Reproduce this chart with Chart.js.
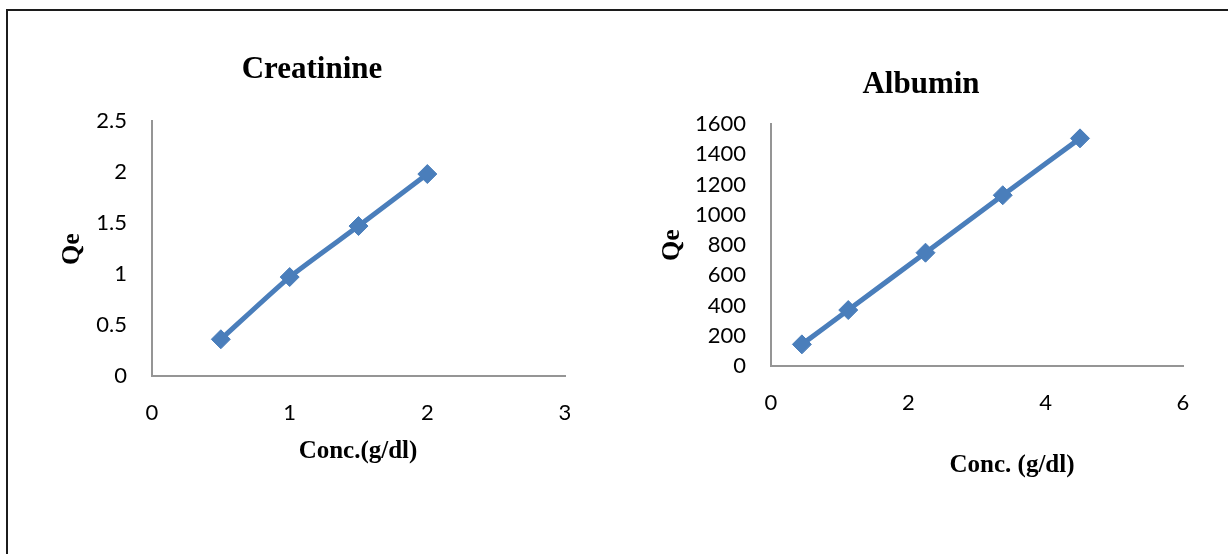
<!DOCTYPE html>
<html>
<head>
<meta charset="utf-8">
<title>Creatinine and Albumin adsorption</title>
<script src="https://cdn.jsdelivr.net/npm/chart.js@4/dist/chart.umd.min.js"></script>
<style>
  html, body { margin: 0; padding: 0; background: #fff; overflow: hidden; }
  body { width: 1228px; height: 554px; position: relative; }
  .frame {
    position: absolute; left: 6px; top: 9px; width: 1300px; height: 700px;
    border-top: 2px solid #1c1c1c; border-left: 2px solid #1c1c1c; box-sizing: border-box;
  }
  .panel { position: absolute; top: 0; width: 614px; height: 554px; }
  #left { left: 0; }
  #right { left: 614px; }
</style>
</head>
<body>
<div class="frame"></div>
<div class="panel" id="left"><canvas id="creatinine" width="614" height="554"></canvas></div>
<div class="panel" id="right"><canvas id="albumin" width="614" height="554"></canvas></div>
<script>
// Creatinine series
const creatinineConc = [0.5, 1, 1.5, 2];
const creatinineQe = [0.36, 0.97, 1.47, 1.98];
const creatinineXTicks = [0, 1, 2, 3];
const creatinineYTicks = [0, 0.5, 1, 1.5, 2, 2.5];

// Albumin series
const albuminConc = [0.45, 1.125, 2.25, 3.375, 4.5];
const albuminQe = [143, 370, 749, 1129, 1505];
const albuminXTicks = [0, 2, 4, 6];
const albuminYTicks = [0, 200, 400, 600, 800, 1000, 1200, 1400, 1600];

const SERIES_COLOR = '#4A7EBB';
const AXIS_COLOR = '#959595';
const TICK_FONT = { family: 'Lato, "Open Sans", sans-serif', size: 22 };

// Draws the chart title and axis titles in bold serif.
const captions = {
  id: 'captions',
  afterDraw(chart, args, opts) {
    const ctx = chart.ctx;
    (opts.items || []).forEach(it => {
      ctx.save();
      ctx.font = 'bold ' + it.size + 'px "Liberation Serif", "Times New Roman", serif';
      ctx.fillStyle = '#000';
      ctx.textAlign = 'center';
      ctx.textBaseline = 'middle';
      ctx.translate(it.x, it.y);
      if (it.rotate) ctx.rotate(it.rotate);
      ctx.fillText(it.text, 0, 0);
      ctx.restore();
    });
  }
};

function points(xs, ys) {
  return xs.map((x, i) => ({ x: x, y: ys[i] }));
}

const plainNumber = v => String(v);

function makeChart(id, cfg) {
  return new Chart(document.getElementById(id), {
    type: 'scatter',
    data: {
      datasets: [{
        data: points(cfg.xs, cfg.ys),
        showLine: true,
        borderColor: SERIES_COLOR,
        backgroundColor: SERIES_COLOR,
        borderWidth: 5,
        tension: 0.2,
        pointStyle: 'rectRot',
        pointRadius: 9.5,
        pointHoverRadius: 9.5,
        pointBorderWidth: 1,
        pointBorderColor: SERIES_COLOR
      }]
    },
    options: {
      responsive: false,
      animation: false,
      events: [],
      layout: { padding: cfg.padding },
      plugins: {
        legend: { display: false },
        tooltip: { enabled: false },
        title: { display: false },
        captions: { items: cfg.captions }
      },
      scales: {
        x: {
          type: 'linear',
          min: cfg.xTicks[0],
          max: cfg.xTicks[cfg.xTicks.length - 1],
          afterBuildTicks: s => { s.ticks = cfg.xTicks.map(v => ({ value: v })); },
          afterFit: s => { s.height = cfg.xAxisHeight; },
          grid: { display: false, drawTicks: false },
          border: { display: true, color: AXIS_COLOR, width: 2 },
          ticks: { color: '#000', font: TICK_FONT, padding: cfg.xTickPad, maxRotation: 0, autoSkip: false, callback: plainNumber }
        },
        y: {
          type: 'linear',
          min: cfg.yTicks[0],
          max: cfg.yTicks[cfg.yTicks.length - 1],
          afterBuildTicks: s => { s.ticks = cfg.yTicks.map(v => ({ value: v })); },
          afterFit: s => { s.width = cfg.yAxisWidth; },
          grid: { display: false, drawTicks: false },
          border: { display: true, color: AXIS_COLOR, width: 2 },
          ticks: { color: '#000', font: TICK_FONT, padding: 25, autoSkip: false, callback: plainNumber }
        }
      }
    },
    plugins: [captions]
  });
}

makeChart('creatinine', {
  xs: creatinineConc, ys: creatinineQe,
  xTicks: creatinineXTicks, yTicks: creatinineYTicks,
  padding: { left: 92, top: 121, right: 49, bottom: 118 },
  yAxisWidth: 60, xAxisHeight: 60, xTickPad: 24,
  captions: [
    { text: 'Creatinine', x: 312, y: 70, size: 31 },
    { text: 'Qe', x: 72, y: 249, size: 26, rotate: -Math.PI / 2 },
    { text: 'Conc.(g/dl)', x: 358, y: 452, size: 25 }
  ]
});

makeChart('albumin', {
  xs: albuminConc, ys: albuminQe,
  xTicks: albuminXTicks, yTicks: albuminYTicks,
  padding: { left: 77, top: 124, right: 45, bottom: 128 },
  yAxisWidth: 80, xAxisHeight: 60, xTickPad: 24,
  captions: [
    { text: 'Albumin', x: 307, y: 85, size: 31 },
    { text: 'Qe', x: 58, y: 245, size: 26, rotate: -Math.PI / 2 },
    { text: 'Conc. (g/dl)', x: 398, y: 466, size: 25 }
  ]
});
</script>
</body>
</html>
